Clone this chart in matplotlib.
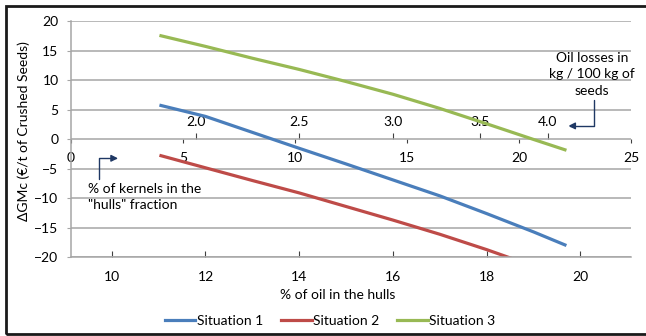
import matplotlib
matplotlib.use("Agg")
import matplotlib.pyplot as plt
from matplotlib.patches import Rectangle

plt.rcParams['font.family'] = ['Lato', 'DejaVu Sans']

# % of oil in the hulls (bottom axis)
oil_in_hulls = [11.05, 12, 13, 14, 15, 16, 17, 18, 19, 19.67]
situation_1 = [5.7, 3.85, 1.15, -1.55, -4.2, -6.9, -9.6, -12.6, -15.7, -17.9]
situation_3 = [17.5, 15.7, 13.7, 11.8, 9.75, 7.6, 5.2, 2.6, -0.05, -1.8]
# situation 2 runs off the bottom of the scale
oil_in_hulls_2 = [11.05, 12, 13, 14, 15, 16, 17, 18, 18.5]
situation_2 = [-2.8, -4.85, -7.0, -9.1, -11.4, -13.7, -16.1, -18.7, -20.1]

# oil losses (kg / 100 kg of seeds) and where they fall on the hull-oil scale
oil_loss_ticks = [2.0, 2.5, 3.0, 3.5, 4.0]
oil_loss_at = [11.8, 14.0, 16.0, 17.85, 19.3]

x_lo, x_hi = 9.13, 21.08
kernel_max = 25

fig = plt.figure(figsize=(6.46, 3.36), dpi=100)
ax = fig.add_axes([0.1099, 0.2342, 0.8669, 0.7033])

ax.plot(oil_in_hulls, situation_1, color='#4a7ebb', lw=2.3, label='Situation 1')
ax.plot(oil_in_hulls_2, situation_2, color='#be4b48', lw=2.3, label='Situation 2')
ax.plot(oil_in_hulls, situation_3, color='#98b954', lw=2.3, label='Situation 3')

ax.set_xlim(x_lo, x_hi)
ax.set_ylim(-20, 20)
ax.set_yticks(range(-20, 25, 5))
ax.set_xticks(range(10, 21, 2))
ax.grid(axis='y', color='#a6a6a6', lw=1.1)
ax.set_axisbelow(True)
for s in ['top', 'right']:
    ax.spines[s].set_visible(False)
for s in ['left', 'bottom']:
    ax.spines[s].set_color('#a6a6a6')
    ax.spines[s].set_linewidth(1.1)
ax.tick_params(axis='x', direction='in', length=4, color='#404040', pad=10, labelsize=10)
ax.tick_params(axis='y', direction='out', length=3, color='#a6a6a6', pad=6, labelsize=10)

ax.set_xlabel('% of oil in the hulls', fontsize=10)
ax.xaxis.set_label_coords(0.477, -0.135)
ax.set_ylabel('ΔGMc (€/t of Crushed Seeds)', fontsize=10)
ax.yaxis.set_label_coords(-0.073, 0.534)


# % of kernels in the "hulls" fraction, drawn along y = 0
def to_kernel(x):
    return (x - x_lo) * kernel_max / (x_hi - x_lo)


def from_kernel(k):
    return x_lo + k * (x_hi - x_lo) / kernel_max


kern = ax.secondary_xaxis(0.5, functions=(to_kernel, from_kernel))
kern.set_alignment('bottom')
kern.set_xticks(range(0, 30, 5))
kern.spines['bottom'].set_visible(False)
kern.spines['top'].set_visible(False)
kern.tick_params(direction='out', length=3, color='#404040', pad=6, labelsize=10)

# oil losses axis, just above y = 0
loss = ax.secondary_xaxis(0.5)
loss.set_xticks(oil_loss_at, [f'{v:.1f}' for v in oil_loss_ticks])
loss.spines['bottom'].set_visible(False)
loss.spines['top'].set_visible(False)
loss.tick_params(direction='out', length=4, color='#404040', pad=4, labelsize=10)

navy = '#1f3864'
ax.text(0.930, 0.774, 'Oil losses in\nkg / 100 kg of\nseeds', transform=ax.transAxes,
        ha='center', va='center', fontsize=10, linespacing=1.45)
ax.annotate('', xy=(0.888, 0.556), xycoords='axes fraction',
            xytext=(0.934, 0.665), textcoords='axes fraction',
            arrowprops=dict(arrowstyle='-|>', color=navy, lw=1,
                            connectionstyle='angle,angleA=90,angleB=0,rad=0',
                            mutation_scale=10, shrinkA=0, shrinkB=0))
ax.text(0.031, 0.255, '% of kernels in the\n"hulls" fraction', transform=ax.transAxes,
        ha='left', va='center', fontsize=10, linespacing=1.4)
ax.annotate('', xy=(0.084, 0.419), xycoords='axes fraction',
            xytext=(0.050, 0.33), textcoords='axes fraction',
            arrowprops=dict(arrowstyle='-|>', color=navy, lw=1,
                            connectionstyle='angle,angleA=90,angleB=0,rad=0',
                            mutation_scale=10, shrinkA=0, shrinkB=0))

fig.legend(loc='center', bbox_to_anchor=(0.511, 0.045), ncol=3, frameon=False,
           fontsize=10, handlelength=2.2, handletextpad=0.1, columnspacing=1.3)

fig.add_artist(Rectangle((6 / 646, 2 / 336), 1.2, 328 / 336, transform=fig.transFigure,
                         fill=False, edgecolor='#1a1a1a', lw=2))

fig.savefig('out.png', dpi=100)
